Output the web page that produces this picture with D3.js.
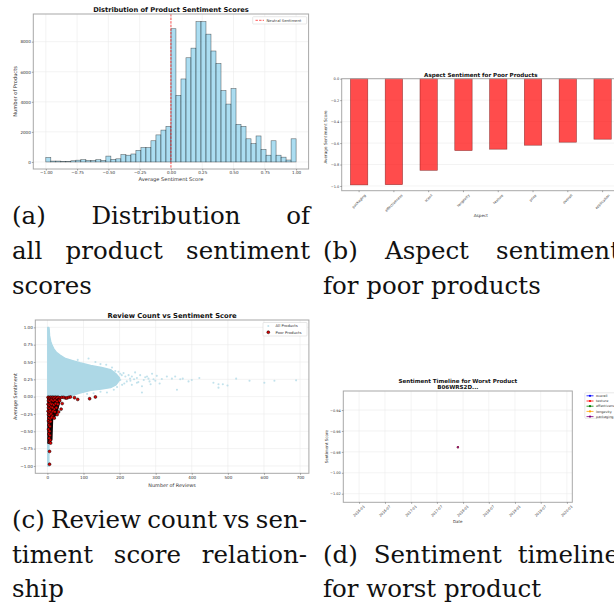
<!DOCTYPE html>
<html>
<head>
<meta charset="utf-8">
<script src="https://cdn.jsdelivr.net/npm/d3@7"></script>
<style>
  body { margin: 0; background: #fff; width: 614px; height: 610px; overflow: hidden; }
  svg { display: block; }
</style>
</head>
<body>
<svg id="fig" width="614" height="610"></svg>
<script>
// ---- data ----

// (a) histogram, 50 bins of width 0.04 from -1 to 1
const binStart = -1, binWidth = 0.04;
const histCounts = [300, 60, 60, 40, 40, 80, 120, 150, 100, 100,
  150, 100, 390, 170, 210, 490, 450, 530, 770, 960,
  960, 1410, 1800, 2120, 2370, 8860, 4430, 5520, 6930, 7570,
  9330, 9330, 8500, 7380, 6550, 4750, 3850, 4880, 2500, 2370,
  1540, 1220, 1730, 830, 450, 1410, 450, 320, 130, 1540];
const histXTicks = [-1, -0.75, -0.5, -0.25, 0, 0.25, 0.5, 0.75, 1];
const histYTicks = [0, 2000, 4000, 6000, 8000];

// (b) aspect sentiment for poor products
const aspects = ["packaging", "effectiveness", "scent", "longevity", "texture", "price", "overall", "application"];
const aspectScores = [-0.99, -0.988, -0.854, -0.67, -0.657, -0.62, -0.592, -0.564];
const aspectYTicks = [0, -0.2, -0.4, -0.6, -0.8, -1.0];

// (c) review count vs sentiment
// saturated core of "All Products" (count, lowest, highest sentiment)
const coreCounts = [1, 4, 5, 6, 9, 13, 18, 25, 35, 50, 70, 90, 120, 150, 175, 190, 200];
const coreLow = [-1.0, -1.0, 0.0, 0.0, 0.0, 0.0, 0.0, 0.0, 0.0, 0.01, 0.02, 0.05, 0.09, 0.11, 0.13, 0.17, 0.24];
const coreHigh = [1.0, 1.0, 0.97, 0.88, 0.80, 0.74, 0.69, 0.64, 0.60, 0.55, 0.52, 0.49, 0.45, 0.42, 0.39, 0.33, 0.27];
// sparse "All Products" points outside the core
const allCounts = [84, 114, 133, 147, 163, 179, 188, 197, 202, 211, 216, 225, 234, 243, 248, 257, 267, 276, 283, 290,
  294, 303, 311, 220, 207, 193, 184, 165, 147, 128, 110, 262, 234, 248, 202, 213, 230, 280, 299, 317,
  331, 345, 354, 368, 375, 391, 400, 421, 460, 474, 474, 486, 499, 523, 560, 601, 629, 689, 359,
  240, 252, 271, 286, 196, 206, 229, 262];
const allSent = [0.53, 0.55, 0.5, 0.47, 0.46, 0.42, 0.37, 0.36, 0.33, 0.34, 0.29, 0.31, 0.29, 0.35, 0.27, 0.31, 0.24, 0.29, 0.22, 0.33,
  0.25, 0.30, 0.19, 0.22, 0.17, 0.14, 0.10, 0.06, 0.07, 0.05, 0.04, 0.06, 0.17, 0.20, 0.24, 0.19, 0.23, 0.26, 0.23, 0.255,
  0.29, 0.26, 0.29, 0.25, 0.26, 0.22, 0.24, 0.27, 0.20, 0.18, 0.13, 0.18, 0.16, 0.26, 0.23, 0.20, 0.23, 0.235, 0.10,
  0.25, 0.21, 0.28, 0.18, 0.28, 0.31, 0.26, 0.15];
// saturated core of "Poor Products" (count, lowest, highest sentiment)
const poorCoreCounts = [2, 12, 14, 18, 22, 26, 30, 34];
const poorCoreLow = [-0.67, -0.62, -0.32, -0.30, -0.27, -0.22, -0.15, -0.06];
const poorCoreHigh = [0, 0, 0, 0, 0, 0, 0, -0.01];
// individual "Poor Products"
const poorCounts = [2, 4, 6, 9, 12, 15, 18, 22, 26, 30, 35, 40, 45, 50, 54, 59, 64,
  3, 7, 11, 16, 21, 27, 32, 34,
  2, 5, 9, 13, 18, 23, 29, 41,
  3, 6, 10, 14, 19, 25, 38,
  2, 5, 8, 12, 16, 21, 31,
  3, 6, 10, 14, 27,
  4, 8, 12, 19,
  3, 6, 9, 4, 7, 3, 6, 4, 7, 5, 8, 6, 9,
  6, 6, 75, 84, 117, 133];
const poorSent = [-0.01, -0.03, -0.02, -0.01, -0.02, -0.01, -0.02, -0.01, -0.02, -0.01, -0.02, -0.01, -0.01, -0.02, -0.02, -0.01, -0.005,
  -0.06, -0.07, -0.05, -0.06, -0.05, -0.07, -0.05, -0.06,
  -0.11, -0.12, -0.10, -0.11, -0.12, -0.10, -0.11, -0.10,
  -0.16, -0.17, -0.15, -0.16, -0.18, -0.16, -0.18,
  -0.21, -0.22, -0.20, -0.23, -0.21, -0.22, -0.22,
  -0.26, -0.27, -0.25, -0.28, -0.26,
  -0.31, -0.32, -0.30, -0.31,
  -0.35, -0.37, -0.36, -0.41, -0.43, -0.47, -0.50, -0.54, -0.56, -0.60, -0.63, -0.66, -0.67,
  -0.79, -0.976, -0.015, -0.04, -0.03, -0.005];
const scatterXTicks = [0, 100, 200, 300, 400, 500, 600, 700];
const scatterYTicks = [-1, -0.75, -0.5, -0.25, 0, 0.25, 0.5, 0.75, 1];

// (d) sentiment timeline for the worst product
const timelineSeries = ["overall", "texture", "effectiveness", "longevity", "packaging"];
const timelineColors = ["blue", "red", "green", "orange", "purple"];
const timelineDates = ["2017-11-26"];
const timelineValues = [-0.9755];
const timelineYTicks = [-1.02, -1.00, -0.98, -0.96, -0.94];

// ---- drawing ----
const FONT = "DejaVu Sans", SERIF = "DejaVu Serif";
const spine = "#a8a8a8", gridCol = "#ebebeb", tickCol = "#555", labCol = "#333";
const svg = d3.select("#fig");
const fmt2 = d3.format(".2f"), fmt1 = d3.format(".1f");

function frame(b) {
  svg.append("rect").attr("x", b.l).attr("y", b.t)
    .attr("width", b.r - b.l).attr("height", b.b - b.t)
    .attr("fill", "none").attr("stroke", spine).attr("stroke-width", 1);
}

function gridX(b, scale, ticks) {
  svg.append("g").selectAll("line").data(ticks).join("line")
    .attr("x1", d => scale(d)).attr("x2", d => scale(d))
    .attr("y1", b.t).attr("y2", b.b)
    .attr("stroke", gridCol).attr("stroke-width", 0.6);
}

function gridY(b, scale, ticks) {
  svg.append("g").selectAll("line").data(ticks).join("line")
    .attr("y1", d => scale(d)).attr("y2", d => scale(d))
    .attr("x1", b.l).attr("x2", b.r)
    .attr("stroke", gridCol).attr("stroke-width", 0.6);
}

function styleAxis(g, fs) {
  g.attr("font-family", FONT).attr("font-size", fs);
  g.select(".domain").remove();
  g.selectAll(".tick line").attr("stroke", tickCol).attr("stroke-width", 0.5);
  g.selectAll(".tick text").attr("fill", labCol);
}

function title(x, y, txt, fs) {
  svg.append("text").attr("x", x).attr("y", y).attr("text-anchor", "middle")
    .attr("font-family", FONT).attr("font-weight", "bold").attr("font-size", fs)
    .attr("fill", "#111").text(txt);
}

function xLabel(x, y, txt, fs) {
  svg.append("text").attr("x", x).attr("y", y).attr("text-anchor", "middle")
    .attr("font-family", FONT).attr("font-size", fs).attr("fill", labCol).text(txt);
}

function yLabel(x, y, txt, fs) {
  svg.append("text").attr("transform", `translate(${x},${y}) rotate(-90)`)
    .attr("text-anchor", "middle").attr("font-family", FONT).attr("font-size", fs)
    .attr("fill", labCol).text(txt);
}

// rotated (45 deg) tick labels, centred under the tick like matplotlib
function rotLabels(items, y0, fs) {
  const g = svg.append("g").attr("font-family", FONT).attr("font-size", fs).attr("fill", labCol);
  items.forEach(([x, s]) => {
    const t = g.append("text").attr("text-anchor", "middle")
      .attr("dominant-baseline", "central").text(s);
    const L = t.node().getComputedTextLength();
    const h = (L + fs) * Math.SQRT1_2;
    t.attr("transform", `translate(${x},${y0 + h / 2}) rotate(-45)`);
  });
}

// ===== (a) histogram =====
const A = {l: 33.3, r: 308.6, t: 14, b: 169};
const xa = d3.scaleLinear().domain([-1.1, 1.1]).range([A.l, A.r]);
const ya = d3.scaleLinear().domain([-468, 9840]).range([A.b, A.t]);
gridX(A, xa, histXTicks);
gridY(A, ya, histYTicks);

svg.append("g").selectAll("rect").data(histCounts).join("rect")
  .attr("x", (d, i) => xa(binStart + i * binWidth))
  .attr("width", xa(binWidth) - xa(0))
  .attr("y", d => ya(d))
  .attr("height", d => ya(0) - ya(d))
  .attr("fill", "#87ceeb").attr("fill-opacity", 0.7)
  .attr("stroke", "black").attr("stroke-opacity", 0.6).attr("stroke-width", 0.55);

svg.append("line").attr("x1", xa(0)).attr("x2", xa(0)).attr("y1", A.t).attr("y2", A.b)
  .attr("stroke", "red").attr("stroke-opacity", 0.75).attr("stroke-width", 0.9)
  .attr("stroke-dasharray", "2.4,1.2");

frame(A);
svg.append("g").attr("transform", `translate(0,${A.b})`)
  .call(d3.axisBottom(xa).tickValues(histXTicks).tickFormat(fmt2).tickSize(1.5).tickPadding(1))
  .call(g => styleAxis(g, 4.1));
svg.append("g").attr("transform", `translate(${A.l},0)`)
  .call(d3.axisLeft(ya).tickValues(histYTicks).tickFormat(d3.format("d")).tickSize(1.5).tickPadding(1))
  .call(g => styleAxis(g, 4.1));

title((A.l + A.r) / 2, 12.3, "Distribution of Product Sentiment Scores", 6.7);
xLabel((A.l + A.r) / 2, 180.8, "Average Sentiment Score", 5.1);
yLabel(17.3, (A.t + A.b) / 2, "Number of Products", 5.1);

// legend (a)
const legA = svg.append("g");
legA.append("rect").attr("x", 252.7).attr("y", 16.7).attr("width", 54).attr("height", 7.3)
  .attr("rx", 0.8).attr("fill", "white").attr("stroke", "#d0d0d0").attr("stroke-width", 0.5);
legA.append("line").attr("x1", 255.5).attr("x2", 264).attr("y1", 20.3).attr("y2", 20.3)
  .attr("stroke", "red").attr("stroke-opacity", 0.75).attr("stroke-width", 0.9)
  .attr("stroke-dasharray", "2.4,1.2");
legA.append("text").attr("x", 266.5).attr("y", 21.7).attr("font-family", FONT)
  .attr("font-size", 3.8).attr("fill", labCol).text("Neutral Sentiment");

// ===== (b) aspect bars =====
const B = {l: 341.7, r: 620, t: 78.7, b: 190.7};
const xb = d3.scaleBand().domain(aspects).range([B.l, B.r]).paddingInner(0.5).paddingOuter(0.25);
const yb = d3.scaleLinear().domain([-1.044, 0]).range([B.b, B.t]);
gridY(B, yb, aspectYTicks);

svg.append("g").selectAll("rect").data(aspects).join("rect")
  .attr("x", d => xb(d))
  .attr("width", xb.bandwidth())
  .attr("y", yb(0))
  .attr("height", (d, i) => yb(aspectScores[i]) - yb(0))
  .attr("fill", "red").attr("fill-opacity", 0.7)
  .attr("stroke", "#5a0000").attr("stroke-opacity", 0.6).attr("stroke-width", 0.6);

frame(B);
svg.append("g").attr("transform", `translate(${B.l},0)`)
  .call(d3.axisLeft(yb).tickValues(aspectYTicks).tickFormat(fmt1).tickSize(1.5).tickPadding(1))
  .call(g => styleAxis(g, 3.5));
svg.append("g").attr("transform", `translate(0,${B.b})`)
  .call(d3.axisBottom(xb).tickSize(1.5).tickFormat(""))
  .call(g => styleAxis(g, 3.5));
rotLabels(aspects.map(a => [xb(a) + xb.bandwidth() / 2, a]), B.b + 3, 3.5);

title((B.l + B.r) / 2, 76.8, "Aspect Sentiment for Poor Products", 5.6);
xLabel((B.l + B.r) / 2, 216.8, "Aspect", 4.2);
yLabel(326.5, 137, "Average Sentiment Score", 4.2);

// ===== (c) scatter =====
const C = {l: 35.3, r: 308.9, t: 320, b: 473.3};
const xc = d3.scaleLinear().domain([-33.5, 724.5]).range([C.l, C.r]);
const yc = d3.scaleLinear().domain([-1.106, 1.106]).range([C.b, C.t]);
gridX(C, xc, scatterXTicks);
gridY(C, yc, scatterYTicks);

const core = coreCounts.map((c, i) => ({c, lo: coreLow[i], hi: coreHigh[i]}));
svg.append("path").datum(core)
  .attr("d", d3.area().x(d => xc(d.c)).y0(d => yc(d.lo)).y1(d => yc(d.hi)))
  .attr("fill", "#add8e6").attr("stroke", "#add8e6").attr("stroke-width", 1.4)
  .attr("stroke-linejoin", "round");

svg.append("g").selectAll("circle").data(allCounts).join("circle")
  .attr("cx", d => xc(d)).attr("cy", (d, i) => yc(allSent[i])).attr("r", 1.05)
  .attr("fill", "#add8e6").attr("fill-opacity", 0.75);

const poorCore = poorCoreCounts.map((c, i) => ({c, lo: poorCoreLow[i], hi: poorCoreHigh[i]}));
svg.append("path").datum(poorCore)
  .attr("d", d3.area().x(d => xc(d.c)).y0(d => yc(d.lo)).y1(d => yc(d.hi)))
  .attr("fill", "#140404").attr("stroke", "#140404").attr("stroke-width", 1.6)
  .attr("stroke-linejoin", "round");

svg.append("g").selectAll("circle").data(poorCounts).join("circle")
  .attr("cx", d => xc(d)).attr("cy", (d, i) => yc(poorSent[i])).attr("r", 1.45)
  .attr("fill", "#e00000").attr("stroke", "black").attr("stroke-width", 0.5);

frame(C);
svg.append("g").attr("transform", `translate(0,${C.b})`)
  .call(d3.axisBottom(xc).tickValues(scatterXTicks).tickFormat(d3.format("d")).tickSize(1.5).tickPadding(1))
  .call(g => styleAxis(g, 4.1));
svg.append("g").attr("transform", `translate(${C.l},0)`)
  .call(d3.axisLeft(yc).tickValues(scatterYTicks).tickFormat(fmt2).tickSize(1.5).tickPadding(1))
  .call(g => styleAxis(g, 4.1));

title((C.l + C.r) / 2, 318.3, "Review Count vs Sentiment Score", 6.8);
xLabel((C.l + C.r) / 2, 486.8, "Number of Reviews", 4.9);
yLabel(17, (C.t + C.b) / 2, "Average Sentiment", 4.9);

// legend (c)
const legC = svg.append("g").attr("font-family", FONT).attr("font-size", 3.8).attr("fill", labCol);
legC.append("rect").attr("x", 263).attr("y", 322.5).attr("width", 44).attr("height", 13.5)
  .attr("rx", 0.8).attr("fill", "white").attr("stroke", "#d0d0d0").attr("stroke-width", 0.5);
legC.append("circle").attr("cx", 268.3).attr("cy", 326).attr("r", 1.05)
  .attr("fill", "#add8e6").attr("fill-opacity", 0.75);
legC.append("circle").attr("cx", 268.3).attr("cy", 332.3).attr("r", 1.45)
  .attr("fill", "#e00000").attr("stroke", "black").attr("stroke-width", 0.5);
legC.append("text").attr("x", 275.5).attr("y", 327.3).text("All Products");
legC.append("text").attr("x", 275.5).attr("y", 333.6).text("Poor Products");

// ===== (d) timeline =====
const D = {l: 343.3, r: 572.3, t: 391, b: 502.3};
const parse = d3.timeParse("%Y-%m-%d");
const xd = d3.scaleTime().domain([parse("2015-09-12"), parse("2020-02-08")]).range([D.l, D.r]);
const yd = d3.scaleLinear().domain([-1.0282, -0.9218]).range([D.b, D.t]);
const dateTicks = d3.timeMonth.every(6).range(parse("2016-01-01"), parse("2020-01-02"));
gridX(D, xd, dateTicks);
gridY(D, yd, timelineYTicks);

timelineSeries.forEach((s, k) => {
  const pts = timelineDates.map((t, i) => ({t: parse(t), v: timelineValues[i]}));
  svg.append("path").datum(pts)
    .attr("d", d3.line().x(d => xd(d.t)).y(d => yd(d.v)))
    .attr("fill", "none").attr("stroke", timelineColors[k]).attr("stroke-width", 0.8);
  svg.append("g").selectAll("circle").data(pts).join("circle")
    .attr("cx", d => xd(d.t)).attr("cy", d => yd(d.v)).attr("r", 1.15)
    .attr("fill", timelineColors[k]).attr("fill-opacity", 0.85);
});

frame(D);
svg.append("g").attr("transform", `translate(${D.l},0)`)
  .call(d3.axisLeft(yd).tickValues(timelineYTicks).tickFormat(fmt2).tickSize(1.5).tickPadding(1))
  .call(g => styleAxis(g, 3.5));
svg.append("g").attr("transform", `translate(0,${D.b})`)
  .call(d3.axisBottom(xd).tickValues(dateTicks).tickFormat("").tickSize(1.5))
  .call(g => styleAxis(g, 3.5));
rotLabels(dateTicks.map(t => [xd(t), d3.timeFormat("%Y-%m")(t)]), D.b + 2.5, 3.5);

title((D.l + D.r) / 2, 383.4, "Sentiment Timeline for Worst Product", 5.55);
title((D.l + D.r) / 2, 389.4, "B06WRS2D...", 5.55);
xLabel((D.l + D.r) / 2, 522.6, "Date", 4.0);
yLabel(327.8, (D.t + D.b) / 2, "Sentiment Score", 4.0);

// legend (d)
const legD = svg.append("g").attr("font-family", FONT).attr("font-size", 3.4).attr("fill", labCol);
legD.append("rect").attr("x", 584.8).attr("y", 392.8).attr("width", 40).attr("height", 25.5)
  .attr("rx", 0.8).attr("fill", "white").attr("stroke", "#d0d0d0").attr("stroke-width", 0.5);
timelineSeries.forEach((s, k) => {
  const y = 395.8 + k * 5.2;
  legD.append("line").attr("x1", 586.5).attr("x2", 593.5).attr("y1", y).attr("y2", y)
    .attr("stroke", timelineColors[k]).attr("stroke-width", 0.8);
  legD.append("circle").attr("cx", 590).attr("cy", y).attr("r", 1.1).attr("fill", timelineColors[k]);
  legD.append("text").attr("x", 596).attr("y", y + 1.2).text(s);
});

// ===== sub-captions =====
const CAP = 24.5;
function caption(x0, x1, lines) {
  const g = svg.append("g").attr("font-family", SERIF).attr("font-size", CAP).attr("fill", "#111");
  lines.forEach(([txt, base, just]) => {
    if (!just) {
      g.append("text").attr("x", x0).attr("y", base).text(txt);
      return;
    }
    const words = txt.split(" ");
    const ts = words.map(w => g.append("text").attr("y", base).text(w));
    const ws = ts.map(t => t.node().getComputedTextLength());
    const gap = (x1 - x0 - d3.sum(ws)) / (words.length - 1);
    let x = x0;
    ts.forEach((t, i) => { t.attr("x", x); x += ws[i] + gap; });
  });
}
caption(12, 310, [["(a) Distribution of", 224, true], ["all product sentiment", 259, true], ["scores", 293.5, false]]);
caption(323, 620, [["(b) Aspect sentiment", 259, true], ["for poor products", 293.5, false]]);
caption(12, 307, [["(c) Review count vs sen-", 528, true], ["timent score relation-", 563, true], ["ship", 597, false]]);
caption(323, 619, [["(d) Sentiment timeline", 563, true], ["for worst product", 597, false]]);
</script>
</body>
</html>
